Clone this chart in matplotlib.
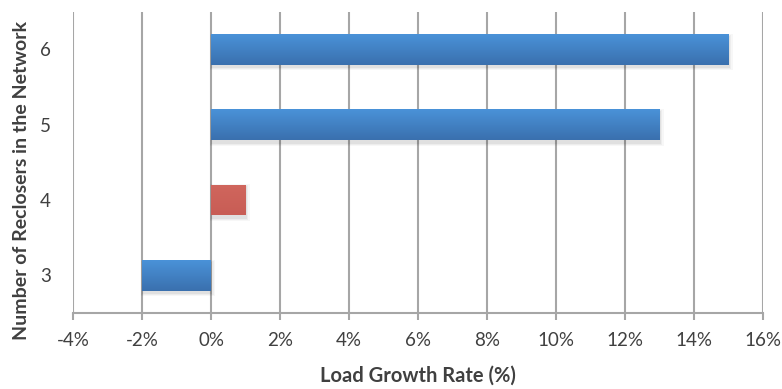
import numpy as np
import matplotlib.pyplot as plt
from matplotlib.colors import LinearSegmentedColormap

reclosers = [3, 4, 5, 6]
growth = [-2, 1, 13, 15]
colors = ['blue', 'red', 'blue', 'blue']
xticks = [-4, -2, 0, 2, 4, 6, 8, 10, 12, 14, 16]

plt.rcParams['font.family'] = ['Lato', 'DejaVu Sans']

fig = plt.figure(figsize=(7.82, 3.89), dpi=100)
ax = fig.add_axes([0.0934, 0.1954, 0.8823, 0.7746])

blue_cmap = LinearSegmentedColormap.from_list('b', ['#3A70AE', '#4A92D8'])
red_cmap = LinearSegmentedColormap.from_list('r', ['#C85D55', '#D0665D'])
grad = np.linspace(0, 1, 64).reshape(-1, 1)
h = 0.41

ax.set_xlim(-4, 16)
ax.set_ylim(2.5, 6.5)

for y, v, c in zip(reclosers, growth, colors):
    x0, x1 = min(0, v), max(0, v)
    # soft shadow, mostly below the bar
    for k, a in enumerate([0.05, 0.04, 0.03]):
        d = 0.025 * (k + 1)
        ax.barh(y - 0.035, x1 - x0 + 0.05 * (k + 1), left=x0 - 0.01 * (k + 1),
                height=h + d, color='black', alpha=a, linewidth=0, zorder=2)
    bar = ax.barh(y, x1 - x0, left=x0, height=h, color='none', linewidth=0, zorder=3)[0]
    cmap = blue_cmap if c == 'blue' else red_cmap
    im = ax.imshow(grad, cmap=cmap, aspect='auto', origin='lower',
                   extent=[x0, x1, y - h / 2, y + h / 2], zorder=3)
    im.set_clip_path(bar)

ax.set_xticks(xticks)
ax.set_xticklabels([f'{t}%' for t in xticks], fontsize=13.5, color='#404040')
ax.set_yticks(reclosers)
ax.set_yticklabels([str(r) for r in reclosers], fontsize=13.5, color='#404040')
ax.xaxis.grid(True, color='#A6A6A6', linewidth=1.5, zorder=1)
ax.set_axisbelow(True)

for s in ['top', 'right', 'left']:
    ax.spines[s].set_visible(False)
ax.spines['bottom'].set_color('#A6A6A6')
ax.spines['bottom'].set_linewidth(1.5)
ax.tick_params(axis='x', length=5, width=1.5, color='#A6A6A6', pad=9)
ax.tick_params(axis='y', length=0, pad=16)

ax.set_xlabel('Load Growth Rate (%)', fontsize=14.5, fontweight='bold', color='#404040', labelpad=12)
ax.set_ylabel('Number of Reclosers in the Network', fontsize=14, fontweight='bold', color='#404040')
ax.yaxis.set_label_coords(-0.062, 0.44)

fig.savefig('out.png', dpi=100)
